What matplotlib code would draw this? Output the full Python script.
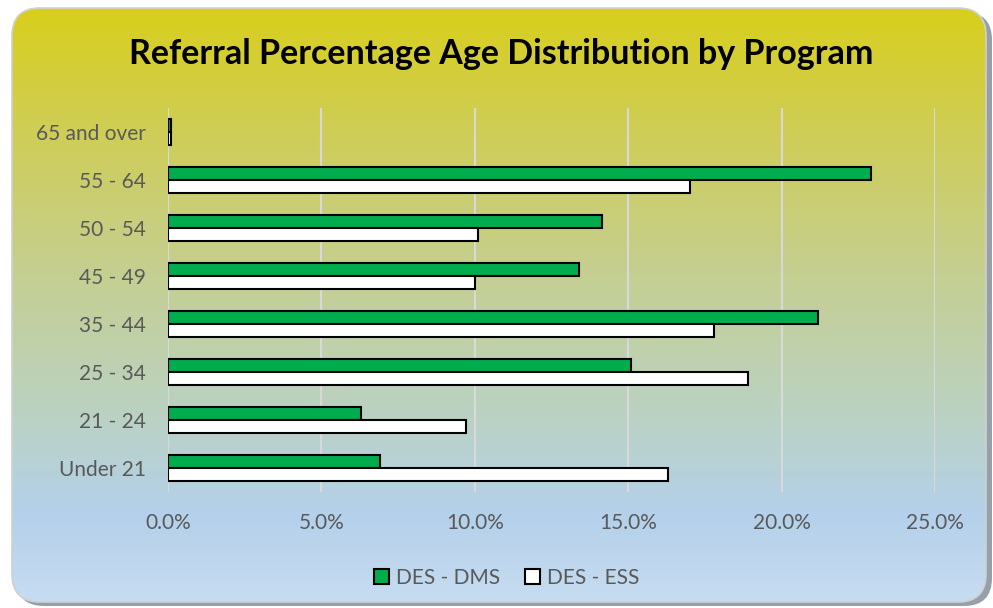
#!/usr/bin/env python3
"""Referral percentage age distribution by program, horizontal bar chart."""

import matplotlib

matplotlib.use("Agg")
import matplotlib.pyplot as plt
import numpy as np
from matplotlib.colors import LinearSegmentedColormap
from matplotlib.patches import FancyBboxPatch
from matplotlib.ticker import PercentFormatter

plt.rcParams["font.family"] = ["Lato", "DejaVu Sans"]

# Data (percent of referrals), bottom category first
categories = ["Under 21", "21 - 24", "25 - 34", "35 - 44",
              "45 - 49", "50 - 54", "55 - 64", "65 and over"]
dms = [6.9, 6.3, 15.1, 21.2, 13.4, 14.15, 22.9, 0.1]
ess = [16.3, 9.7, 18.9, 17.8, 10.0, 10.1, 17.0, 0.1]
series_names = ["DES - DMS", "DES - ESS"]

GREEN = "#00ad4e"
TEXT = "#595959"
GRID = "#d9d9d9"

fig = plt.figure(figsize=(9.93, 6.08), dpi=100)

# --- background panel with vertical gradient and rounded corners ---------
bg = fig.add_axes([0, 0, 1, 1])
bg.set_xlim(0, 993)
bg.set_ylim(608, 0)
bg.axis("off")

shadow = FancyBboxPatch((16, 12), 976, 594, boxstyle="round,pad=0,rounding_size=28",
                        fc="#7d8894", ec="none", alpha=0.8)
bg.add_patch(shadow)
panel = FancyBboxPatch((12, 8), 974, 594, boxstyle="round,pad=0,rounding_size=28",
                       fc="none", ec="#d0d0d0", lw=1.2)
bg.add_patch(panel)
cmap = LinearSegmentedColormap.from_list("bg", [
    (0.0, "#d9cf1c"), (0.2, "#cfcd55"), (0.45, "#c5cf92"),
    (0.7, "#bad2c6"), (0.85, "#b4d0ea"), (1.0, "#c6dcf1")])
grad = np.linspace(0, 1, 256).reshape(-1, 1)
im = bg.imshow(grad, cmap=cmap, aspect="auto", extent=(12, 986, 602, 8), zorder=1)
im.set_clip_path(panel)
panel.set_zorder(2)

fig.text(0.505, 0.912, "Referral Percentage Age Distribution by Program",
         ha="center", va="center", fontsize=24.5, fontweight="bold", color="black")

# --- bar chart ------------------------------------------------------------
ax = fig.add_axes([168 / 993, 1 - 492 / 608, (935 - 168) / 993, 384 / 608])
ax.patch.set_alpha(0)
y = np.arange(len(categories))
h = 0.28
ax.barh(y + h / 2, dms, height=h, color=GREEN, edgecolor="black", lw=1.5,
        label=series_names[0], zorder=3)
ax.barh(y - h / 2, ess, height=h, color="white", edgecolor="black", lw=1.5,
        label=series_names[1], zorder=3)

ax.set_xlim(0, 25)
ax.set_ylim(-0.5, len(categories) - 0.5)
ax.set_xticks(np.arange(0, 26, 5))
ax.xaxis.set_major_formatter(PercentFormatter(decimals=1))
ax.set_yticks(y)
ax.set_yticklabels(categories)
ax.tick_params(axis="both", length=0, labelsize=15, colors=TEXT)
ax.tick_params(axis="x", pad=15)
ax.tick_params(axis="y", pad=16)
ax.grid(axis="x", color=GRID, lw=1.5, zorder=0)
for s in ax.spines.values():
    s.set_visible(False)

leg = fig.legend(loc="center", bbox_to_anchor=(0.51, 0.05), ncol=2, frameon=False,
                 fontsize=15, handlelength=0.75, handleheight=0.75,
                 handletextpad=0.3, columnspacing=1.2)
for t in leg.get_texts():
    t.set_color(TEXT)

fig.savefig("out.png", dpi=100)
